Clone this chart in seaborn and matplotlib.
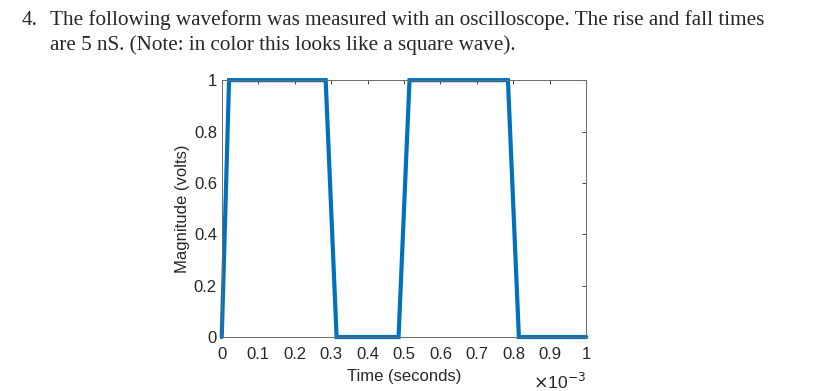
import numpy as np
import pandas as pd
import matplotlib
matplotlib.use("Agg")
import matplotlib.pyplot as plt
import seaborn as sns

# Waveform data (time in seconds, magnitude in volts)
time_s = [0.0, 0.02e-3, 0.285e-3, 0.315e-3, 0.485e-3, 0.515e-3, 0.785e-3, 0.815e-3, 1.0e-3]
volts = [0, 1, 1, 0, 0, 1, 1, 0, 0]
xticks_ms = [0, 0.1, 0.2, 0.3, 0.4, 0.5, 0.6, 0.7, 0.8, 0.9, 1]
xtick_labels = ["0", "0.1", "0.2", "0.3", "0.4", "0.5", "0.6", "0.7", "0.8", "0.9", "1"]
yticks = [0, 0.2, 0.4, 0.6, 0.8, 1]
ytick_labels = ["0", "0.2", "0.4", "0.6", "0.8", "1"]

df = pd.DataFrame({"t": time_s, "v": volts})

sns.set_style("white")
plt.rcParams["font.family"] = ["Liberation Sans", "DejaVu Sans"]

fig = plt.figure(figsize=(8.4, 3.91), dpi=100)
ax = fig.add_axes([0.264, 0.138, 0.434, 0.657])

sns.lineplot(data=df, x="t", y="v", ax=ax, color="#0072BD", linewidth=3.0,
             sort=False, estimator=None)
for ln in ax.lines:
    ln.set_clip_on(False)
    ln.set_solid_joinstyle("miter")

ax.set_xlim(0, 1e-3)
ax.set_ylim(0, 1)
ax.set_xticks([v * 1e-3 for v in xticks_ms])
ax.set_xticklabels(xtick_labels)
ax.set_yticks(yticks)
ax.set_yticklabels(ytick_labels)
ax.tick_params(direction="in", top=True, right=True, length=3, width=0.6,
               colors="#262626", labelsize=12)
ax.tick_params(axis="x", pad=7.5)
ax.tick_params(axis="y", pad=3.5)
for s in ax.spines.values():
    s.set_visible(True)
    s.set_color("#6a6a6a")
    s.set_linewidth(0.7)
ax.set_xlabel("Time (seconds)", fontsize=12, color="#262626", labelpad=5)
ax.set_ylabel("Magnitude (volts)", fontsize=12, color="#262626", labelpad=3)
ax.text(1.0, -0.175, r"$\times$10$^{-3}$", transform=ax.transAxes, ha="right",
        va="center", fontsize=12.5, color="#262626")

fig.text(0.026, 0.935, "4.", fontsize=15.2, family=["Liberation Serif"], va="baseline")
fig.text(0.059, 0.935, "The following waveform was measured with an oscilloscope. The rise and fall times",
         fontsize=15.2, family=["Liberation Serif"], va="baseline")
fig.text(0.059, 0.872, "are 5 nS. (Note: in color this looks like a square wave).",
         fontsize=15.2, family=["Liberation Serif"], va="baseline")

fig.savefig("out.png", dpi=100)
